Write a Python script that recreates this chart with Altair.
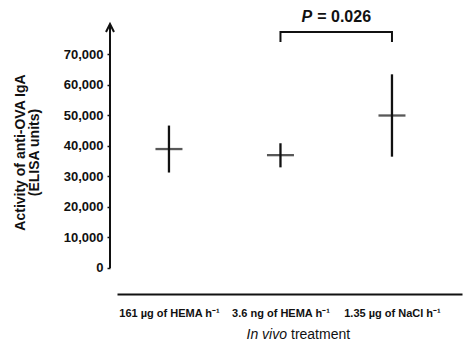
import altair as alt
import pandas as pd

# ---- data ----
categories = ["161 µg of HEMA h⁻¹", "3.6 ng of HEMA h⁻¹", "1.35 µg of NaCl h⁻¹"]
means = [39000, 37000, 50000]
lower = [31300, 33000, 36500]
upper = [46700, 40900, 63500]
y_ticks = [0, 10000, 20000, 30000, 40000, 50000, 60000, 70000]
axis_top = 80000
# significance bracket between category 2 and 3
bracket_pair = [1, 2]
bracket_low = 74100
bracket_high = 77400
p_text_y = 82300

FONT = "Liberation Sans"
INK = "#111111"

df = pd.DataFrame({
    "idx": list(range(len(categories))),
    "cat": categories,
    "mean": means,
    "lo": lower,
    "hi": upper,
})

xs = alt.Scale(domain=[-0.466, 2.628], nice=False, zero=False)
ys = alt.Scale(domain=[-8525, 84590], nice=False, zero=False)

label_arr = "[" + ",".join("'" + c + "'" for c in categories) + "]"

x_enc = alt.X(
    "idx:Q", scale=xs, title=None,
    axis=alt.Axis(values=list(range(len(categories))), labelExpr=label_arr + "[datum.value]",
                  ticks=False, grid=False, domainWidth=2, domainColor=INK,
                  labelFont=FONT, labelFontSize=11, labelFontWeight="bold", labelColor=INK,
                  labelPadding=13, labelFlush=False, labelOverlap=False),
)
y_axis = alt.Axis(values=y_ticks, format=",.0f", grid=False, domain=False, offset=7,
                  tickSize=3, tickWidth=1.5, tickColor=INK, labelPadding=4,
                  labelFont=FONT, labelFontSize=13, labelFontWeight="bold", labelColor=INK,
                  title=["Activity of anti-OVA IgA", "(ELISA units)"],
                  titleFont=FONT, titleFontSize=14, titleFontWeight="bold", titleColor=INK,
                  titlePadding=22, titleLineHeight=14)

base = alt.Chart(df)

err = base.mark_rule(color=INK, strokeWidth=2.3).encode(
    x=x_enc,
    y=alt.Y("lo:Q", scale=ys, axis=y_axis),
    y2="hi:Q",
)
mean_tick = base.mark_tick(color=INK, size=27, thickness=2.3, orient="horizontal").encode(
    x=alt.X("idx:Q", scale=xs),
    y=alt.Y("mean:Q", scale=ys),
)

# y axis line with arrow
axis_df = pd.DataFrame({"y0": [0], "y1": [axis_top]})
axis_line = alt.Chart(axis_df).mark_rule(color=INK, strokeWidth=2).encode(
    x=alt.value(-7),
    y=alt.Y("y0:Q", scale=ys),
    y2="y1:Q",
)
arrow = alt.Chart(axis_df).mark_point(
    shape="M-1,2L0,0L1,2", size=64, filled=False, color=INK, strokeWidth=2, opacity=1
).encode(
    x=alt.value(-7),
    y=alt.Y("y1:Q", scale=ys),
)

# bracket
br_df = pd.DataFrame({
    "bx": [bracket_pair[0], bracket_pair[0], bracket_pair[1], bracket_pair[1]],
    "by": [bracket_low, bracket_high, bracket_high, bracket_low],
    "o": [0, 1, 2, 3],
})
bracket = alt.Chart(br_df).mark_line(color=INK, strokeWidth=2).encode(
    x=alt.X("bx:Q", scale=xs),
    y=alt.Y("by:Q", scale=ys),
    order="o:Q",
)
p_df = pd.DataFrame({"px": [sum(bracket_pair) / 2], "py": [p_text_y]})
p_italic = alt.Chart(p_df).mark_text(
    text="P", font=FONT, fontSize=16, fontWeight="bold", fontStyle="italic",
    align="right", baseline="middle", dx=-24, color=INK
).encode(x=alt.X("px:Q", scale=xs), y=alt.Y("py:Q", scale=ys))
p_rest = alt.Chart(p_df).mark_text(
    text="= 0.026", font=FONT, fontSize=16, fontWeight="bold",
    align="left", baseline="middle", dx=-19, color=INK
).encode(x=alt.X("px:Q", scale=xs), y=alt.Y("py:Q", scale=ys))

# x axis title (mixed style)
xt1 = alt.Chart(p_df).mark_text(
    text="In vivo", font=FONT, fontSize=14, fontStyle="italic",
    align="right", baseline="middle", color=INK
).encode(x=alt.value(170), y=alt.value(325))
xt2 = alt.Chart(p_df).mark_text(
    text="treatment", font=FONT, fontSize=14,
    align="left", baseline="middle", color=INK
).encode(x=alt.value(174), y=alt.value(325))

chart = alt.layer(err, mean_tick, axis_line, arrow, bracket, p_italic, p_rest, xt1, xt2).properties(
    width=345, height=284,
    autosize=alt.AutoSizeParams(type="none"),
    padding={"left": 117, "top": 10, "right": 2, "bottom": 54},
    background="white",
).configure_view(stroke=None)

chart.save("out.html", embed_options={"renderer": "svg", "actions": False})
